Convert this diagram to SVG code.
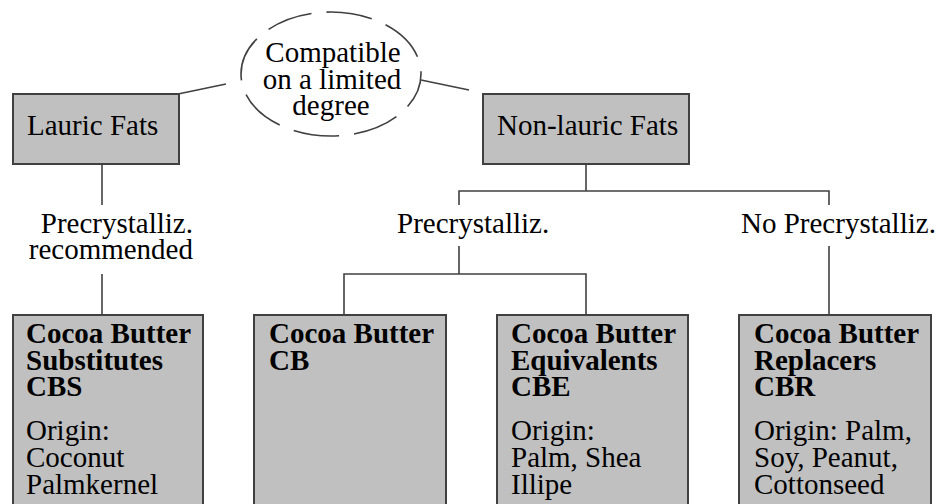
<svg xmlns="http://www.w3.org/2000/svg" width="941" height="504" viewBox="0 0 941 504">
<style>
.box{fill:#c0c0c0;stroke:#404040;stroke-width:2}
.ln{fill:none;stroke:#404040;stroke-width:1.6}
text{font-family:"Liberation Serif","Times New Roman",serif;font-size:29px;fill:#000}
.b{font-weight:bold}
.m{text-anchor:middle}
</style>
<rect width="941" height="504" fill="#fff"/>
<g id="connectors">
<line class="ln" x1="178" y1="94" x2="226" y2="84"/>
<line class="ln" x1="421" y1="80" x2="469" y2="90"/>
<line class="ln" x1="102" y1="164" x2="102" y2="205"/>
<line class="ln" x1="102" y1="274" x2="102" y2="315"/>
<polyline class="ln" points="586,164 586,191"/>
<polyline class="ln" points="459,205 459,191 829,191 829,205"/>
<line class="ln" x1="459" y1="246" x2="459" y2="274"/>
<polyline class="ln" points="344,315 344,274 586,274 586,315"/>
<line class="ln" x1="829" y1="246" x2="829" y2="315"/>
</g>
<g id="compat">
<ellipse cx="331" cy="74" rx="90" ry="62" fill="none" stroke="#404040" stroke-width="1.6" stroke-dasharray="46 15" stroke-dashoffset="10"/>
<text class="m" x="333" y="62">Compatible</text>
<text class="m" x="332" y="89">on a limited</text>
<text class="m" x="331" y="115">degree</text>
</g>
<g id="lauric">
<rect class="box" x="13" y="94" width="166" height="70"/>
<text x="27" y="135">Lauric Fats</text>
</g>
<g id="nonlauric">
<rect class="box" x="483" y="94" width="206" height="70"/>
<text x="497" y="135">Non-lauric Fats</text>
</g>
<g id="label-lauric">
<text x="193" y="233" text-anchor="end">Precrystalliz.</text>
<text x="193" y="259" text-anchor="end">recommended</text>
</g>
<g id="label-pre">
<text x="397" y="233">Precrystalliz.</text>
</g>
<g id="label-nopre">
<text x="741" y="233">No Precrystalliz.</text>
</g>
<g id="cbs">
<rect class="box" x="13" y="315" width="190" height="200"/>
<text class="b" x="26" y="343">Cocoa Butter</text>
<text class="b" x="26" y="370">Substitutes</text>
<text class="b" x="26" y="396">CBS</text>
<text x="26" y="440">Origin:</text>
<text x="26" y="467">Coconut</text>
<text x="26" y="494">Palmkernel</text>
</g>
<g id="cb">
<rect class="box" x="254" y="315" width="192" height="200"/>
<text class="b" x="269" y="343">Cocoa Butter</text>
<text class="b" x="269" y="370">CB</text>
</g>
<g id="cbe">
<rect class="box" x="497" y="315" width="191" height="200"/>
<text class="b" x="511" y="343">Cocoa Butter</text>
<text class="b" x="511" y="370">Equivalents</text>
<text class="b" x="511" y="396">CBE</text>
<text x="511" y="440">Origin:</text>
<text x="511" y="467">Palm, Shea</text>
<text x="511" y="494">Illipe</text>
</g>
<g id="cbr">
<rect class="box" x="739" y="315" width="192" height="200"/>
<text class="b" x="754" y="343">Cocoa Butter</text>
<text class="b" x="754" y="370">Replacers</text>
<text class="b" x="754" y="396">CBR</text>
<text x="754" y="440">Origin: Palm,</text>
<text x="754" y="467">Soy, Peanut,</text>
<text x="754" y="494">Cottonseed</text>
</g>
</svg>
